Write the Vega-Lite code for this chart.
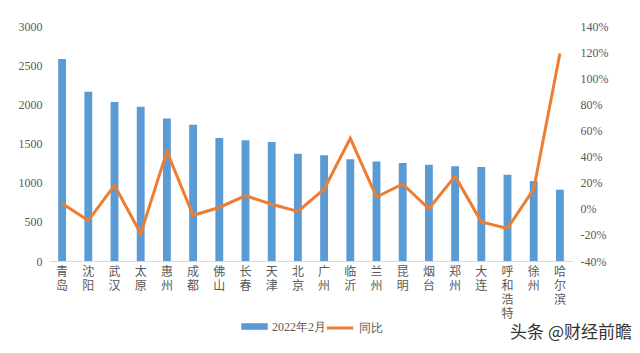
{
  "$schema": "https://vega.github.io/schema/vega-lite/v6.json",
  "width": 524,
  "height": 235,
  "autosize": {"type": "none"},
  "padding": {"left": 49, "top": 26, "right": 67, "bottom": 92},
  "background": "white",
  "config": {
    "view": {"stroke": null},
    "axis": {"labelFont": "Liberation Serif", "labelFontSize": 12, "labelColor": "#595959", "grid": false, "ticks": false, "title": null},
    "legend": {"labelFont": "Liberation Serif", "labelFontSize": 12, "labelColor": "#595959"}
  },
  "title": {"text": "头条 @财经前瞻", "orient": "bottom", "anchor": "end", "font": "Noto Sans CJK SC", "fontSize": 17, "fontWeight": "normal", "color": "#333333", "dx": 24, "dy": -19, "offset": 10},
  "data": {"values": [
    {"city": "青岛", "value": 2580, "yoy": 4},
    {"city": "沈阳", "value": 2160, "yoy": -9},
    {"city": "武汉", "value": 2030, "yoy": 18},
    {"city": "太原", "value": 1970, "yoy": -19},
    {"city": "惠州", "value": 1820, "yoy": 44},
    {"city": "成都", "value": 1740, "yoy": -5},
    {"city": "佛山", "value": 1570, "yoy": 1},
    {"city": "长春", "value": 1540, "yoy": 10},
    {"city": "天津", "value": 1520, "yoy": 3.5},
    {"city": "北京", "value": 1370, "yoy": -2},
    {"city": "广州", "value": 1350, "yoy": 15},
    {"city": "临沂", "value": 1300, "yoy": 54},
    {"city": "兰州", "value": 1270, "yoy": 9},
    {"city": "昆明", "value": 1250, "yoy": 19},
    {"city": "烟台", "value": 1230, "yoy": 0},
    {"city": "郑州", "value": 1210, "yoy": 25},
    {"city": "大连", "value": 1200, "yoy": -10},
    {"city": "呼和浩特", "value": 1100, "yoy": -15},
    {"city": "徐州", "value": 1020, "yoy": 15},
    {"city": "哈尔滨", "value": 910, "yoy": 119}
  ]},
  "encoding": {
    "x": {"field": "city", "type": "nominal", "sort": null,
      "scale": {"paddingInner": 0.7, "paddingOuter": 0.35},
      "axis": {"labelAngle": 0, "labelExpr": "split(datum.label, '')", "labelLineHeight": 14, "labelFontSize": 12, "labelBaseline": "top", "labelPadding": 5, "domainColor": "#D9D9D9", "labelFont": "Noto Sans CJK SC", "labelOverlap": false}}
  },
  "layer": [
    {
      "mark": {"type": "bar"},
      "encoding": {
        "y": {"field": "value", "type": "quantitative", "scale": {"domain": [0, 3000]},
          "axis": {"orient": "left", "values": [0, 500, 1000, 1500, 2000, 2500, 3000], "domain": false, "labelPadding": 7, "format": "d"}},
        "fill": {"datum": "2022年2月", "type": "nominal", "scale": {"domain": ["2022年2月"], "range": ["#5B9BD5"]},
          "legend": {"orient": "none", "legendX": 192, "legendY": 287, "title": null, "symbolType": "M-1,-0.25H1V0.25H-1Z", "symbolSize": 700, "symbolStrokeWidth": 0}}
      }
    },
    {
      "mark": {"type": "line", "strokeWidth": 3},
      "encoding": {
        "y": {"field": "yoy", "type": "quantitative", "scale": {"domain": [-40, 140]},
          "axis": {"orient": "right", "values": [-40, -20, 0, 20, 40, 60, 80, 100, 120, 140], "domain": false, "labelPadding": 7, "labelExpr": "datum.value + '%'"}},
        "stroke": {"datum": "同比", "type": "nominal", "scale": {"domain": ["同比"], "range": ["#ED7D31"]},
          "legend": {"orient": "none", "legendX": 276, "legendY": 287, "title": null, "symbolType": "stroke", "symbolSize": 700, "symbolStrokeWidth": 3}}
      }
    }
  ],
  "resolve": {"scale": {"y": "independent"}}
}
